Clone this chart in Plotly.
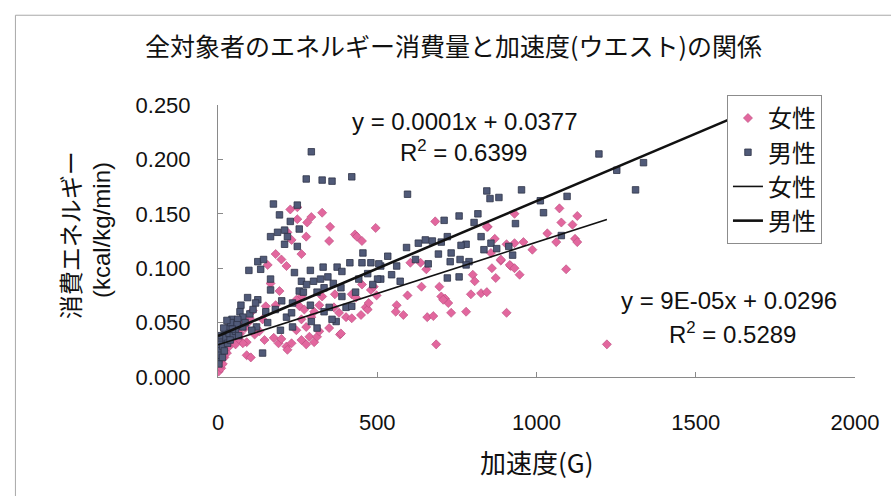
import plotly.graph_objects as go
import numpy as np

# ---------------- data ----------------
male_x = [293, 277, 327, 358, 420, 595, 953, 1196, 1252, 1336, 1311, 1012, 1096, 1022, 934, 844, 854, 882,
          816, 757, 710, 804, 826, 779, 763, 720, 701, 857, 875, 835, 732, 692, 729, 760, 788, 779, 925, 913,
          1078, 720, 757, 651, 673, 629, 592, 533, 561, 511, 511, 174, 249, 193, 227, 255, 209, 187, 218, 165,
          209, 249, 125, 143, 97, 134, 165, 240, 290, 330, 374, 389, 414, 455, 452, 480, 505, 501, 165, 255,
          268, 93, 125, 72, 69, 118, 78, 311, 333, 234, 290, 386, 389, 349, 333, 402, 420, 371, 358, 215, 231,
          196, 234, 156, 121, 106, 53, 31, 22, 12, 6, 2, 140, 293, 311, 44, 62, 78,
          5, 8, 10, 15, 18, 25, 30, 35, 40, 48, 55, 60, 3, 14, 20, 28, 38, 45, 65, 85, 100, 110, 150, 180,
          200, 262, 278, 300, 322, 345, 362, 432, 442, 470, 486, 545, 572, 620, 660]
male_y = [0.207, 0.182, 0.181, 0.180, 0.184, 0.168, 0.172, 0.205, 0.190, 0.197, 0.172, 0.162, 0.166, 0.151,
          0.141, 0.171, 0.164, 0.165, 0.150, 0.148, 0.144, 0.142, 0.129, 0.122, 0.121, 0.129, 0.124, 0.123,
          0.118, 0.117, 0.114, 0.113, 0.106, 0.108, 0.106, 0.103, 0.112, 0.120, 0.130, 0.091, 0.092, 0.126,
          0.125, 0.123, 0.119, 0.111, 0.102, 0.102, 0.090, 0.159, 0.158, 0.149, 0.143, 0.136, 0.135, 0.133,
          0.129, 0.129, 0.122, 0.120, 0.106, 0.108, 0.098, 0.099, 0.090, 0.096, 0.098, 0.101, 0.101, 0.097,
          0.105, 0.114, 0.105, 0.105, 0.104, 0.090, 0.080, 0.079, 0.078, 0.073, 0.071, 0.066, 0.060, 0.068,
          0.055, 0.078, 0.082, 0.068, 0.066, 0.082, 0.074, 0.064, 0.060, 0.064, 0.065, 0.051, 0.053, 0.055,
          0.059, 0.043, 0.046, 0.050, 0.046, 0.043, 0.046, 0.045, 0.040, 0.034, 0.025, 0.016, 0.022, 0.051,
          0.045, 0.053, 0.053, 0.046,
          0.030, 0.020, 0.038, 0.028, 0.045, 0.036, 0.031, 0.040, 0.050, 0.038, 0.042, 0.048, 0.012, 0.018,
          0.024, 0.052, 0.034, 0.044, 0.038, 0.050, 0.058, 0.062, 0.060, 0.062, 0.070, 0.088, 0.085, 0.088,
          0.090, 0.092, 0.086, 0.078, 0.090, 0.095, 0.085, 0.094, 0.088, 0.108, 0.104]

female_x = [227, 249, 293, 327, 249, 280, 352, 218, 231, 277, 349, 430, 436, 452, 495, 262, 181, 199, 215,
            156, 165, 193, 150, 109, 100, 90, 78, 90, 103, 115, 146, 175, 190, 215, 231, 199, 262, 277, 287,
            302, 311, 318, 277, 246, 262, 293, 318, 302, 364, 380, 383, 349, 402, 420, 449, 464, 470, 473,
            480, 489, 498, 452, 327, 367, 420, 433, 262, 246, 256, 271, 181, 140, 59, 218, 386,
            682, 847, 869, 906, 931, 959, 987, 857, 888, 919, 947, 860, 872, 800, 806, 1093, 931, 1072, 1128,
            1078, 1113, 1034, 1121, 1128, 1062, 844, 604, 636, 654, 639, 595, 561, 558, 582, 695, 701, 713,
            723, 657, 676, 732, 779, 685, 707, 794, 826, 844, 906, 1221, 916, 931, 888,
            2, 5, 8, 10, 12, 15, 18, 20, 25, 28, 30, 35, 40, 45, 50, 55, 60, 65, 70, 75, 85, 95, 120, 130]
female_y = [0.154, 0.156, 0.147, 0.151, 0.145, 0.142, 0.138, 0.133, 0.126, 0.129, 0.125, 0.131, 0.129,
            0.125, 0.137, 0.113, 0.113, 0.108, 0.102, 0.103, 0.086, 0.079, 0.065, 0.061, 0.054, 0.032, 0.031,
            0.020, 0.018, 0.039, 0.034, 0.036, 0.031, 0.028, 0.031, 0.035, 0.034, 0.030, 0.037, 0.032, 0.037,
            0.042, 0.046, 0.043, 0.053, 0.055, 0.066, 0.060, 0.064, 0.059, 0.039, 0.045, 0.055, 0.054, 0.057,
            0.064, 0.062, 0.068, 0.080, 0.083, 0.075, 0.085, 0.074, 0.076, 0.076, 0.073, 0.074, 0.071, 0.065,
            0.062, 0.066, 0.053, 0.043, 0.025, 0.040,
            0.143, 0.138, 0.127, 0.122, 0.123, 0.124, 0.117, 0.114, 0.107, 0.102, 0.094, 0.100, 0.091, 0.094,
            0.088, 0.099, 0.150, 0.155, 0.148, 0.142, 0.140, 0.132, 0.127, 0.124, 0.124, 0.138, 0.105, 0.105,
            0.099, 0.083, 0.075, 0.066, 0.060, 0.057, 0.083, 0.074, 0.072, 0.068, 0.055, 0.056, 0.059, 0.060,
            0.030, 0.071, 0.076, 0.077, 0.078, 0.059, 0.030, 0.103, 0.100, 0.108,
            0.005, 0.010, 0.015, 0.008, 0.020, 0.012, 0.025, 0.018, 0.030, 0.022, 0.035, 0.028, 0.032, 0.040,
            0.036, 0.030, 0.045, 0.035, 0.040, 0.048, 0.045, 0.050, 0.045, 0.042]

# trendline coefficients (slope, intercept) and drawn x-extent
female_fit = (0.0000943, 0.0296)
female_fit_range = [0, 1221]
male_fit = (0.000124, 0.0377)
male_fit_range = [0, 1600]

series_names = ["女性", "男性"]
x_ticks = [0, 500, 1000, 1500, 2000]
y_ticks = [0.0, 0.05, 0.10, 0.15, 0.20, 0.25]

title_text = "全対象者のエネルギー消費量と加速度(ウエスト)の関係"
x_title = "加速度(G)"
y_title_jp = "消費エネルギー"
y_title_unit = "(kcal/kg/min)"
male_eq = ["y = 0.0001x + 0.0377", "R<sup>2</sup> = 0.6399"]
female_eq = ["y = 9E-05x + 0.0296", "R<sup>2</sup> = 0.5289"]

# ---------------- figure ----------------
JP = "Noto Sans CJK JP"
NUM = "Liberation Sans"

fig = go.Figure()
fig.add_trace(go.Scatter(x=female_x, y=female_y, mode="markers", name=series_names[0],
                         marker=dict(symbol="diamond", size=7, color="#E2679E",
                                     line=dict(color="#B84A7C", width=0.6))))
fig.add_trace(go.Scatter(x=male_x, y=male_y, mode="markers", name=series_names[1],
                         marker=dict(symbol="square", size=6.5, color="#505A78",
                                     line=dict(color="#2E3347", width=0.8))))
fx = np.array(female_fit_range, dtype=float)
fig.add_trace(go.Scatter(x=fx, y=female_fit[0] * fx + female_fit[1], mode="lines",
                         name=series_names[0], line=dict(color="#111111", width=1.6)))
mx = np.array(male_fit_range, dtype=float)
fig.add_trace(go.Scatter(x=mx, y=male_fit[0] * mx + male_fit[1], mode="lines",
                         name=series_names[1], line=dict(color="#111111", width=2.6)))

annos = [
    dict(text=title_text, x=0.369, y=1.221, font=dict(family=JP, size=25, color="#111")),
    dict(text=x_title, x=0.5, y=-0.309, font=dict(family=JP, size=26, color="#111")),
    dict(text=y_title_jp, x=-0.2335, y=0.522, textangle=-90, font=dict(family=JP, size=24, color="#111")),
    dict(text=y_title_unit, x=-0.1838, y=0.54, textangle=-90, font=dict(family=NUM, size=24, color="#111")),
    dict(text=male_eq[0], x=0.388, y=0.941, font=dict(family=NUM, size=24, color="#111")),
    dict(text=male_eq[1], x=0.385, y=0.831, font=dict(family=NUM, size=24, color="#111")),
    dict(text=female_eq[0], x=0.802, y=0.283, font=dict(family=NUM, size=24, color="#111")),
    dict(text=female_eq[1], x=0.807, y=0.162, font=dict(family=NUM, size=24, color="#111")),
]
for a in annos:
    a.update(xref="paper", yref="paper", showarrow=False, xanchor="center", yanchor="middle")

fig.update_layout(
    width=891, height=496,
    margin=dict(l=218, r=31, t=105, b=119),
    paper_bgcolor="white", plot_bgcolor="white",
    showlegend=True,
    legend=dict(x=0.799, y=1.037, xanchor="left", yanchor="top",
                bgcolor="white", bordercolor="#8C8C8C", borderwidth=1,
                font=dict(family=JP, size=24, color="#111"),
                itemwidth=30, tracegroupgap=0),
    annotations=annos,
    shapes=[dict(type="rect", xref="paper", yref="paper",
                 x0=-0.318, x1=1.06, y0=-0.46, y1=1.33,
                 line=dict(color="#A8A8A8", width=1), layer="below")],
)
fig.update_xaxes(range=[0, 2000], tickvals=x_ticks, ticktext=[str(v) for v in x_ticks],
                 showgrid=False, zeroline=False, showline=True, linecolor="#8A8A8A", linewidth=1,
                 ticks="inside", ticklen=5, tickcolor="#8A8A8A",
                 tickfont=dict(family=NUM, size=22, color="#111"), ticklabelstandoff=26)
fig.update_yaxes(range=[0, 0.25], tickvals=y_ticks, ticktext=[f"{v:.3f}" for v in y_ticks],
                 showgrid=False, zeroline=False, showline=True, linecolor="#8A8A8A", linewidth=1,
                 ticks="inside", ticklen=5, tickcolor="#8A8A8A",
                 tickfont=dict(family=NUM, size=22, color="#111"), ticklabelstandoff=22)

fig.write_html("out.html")
